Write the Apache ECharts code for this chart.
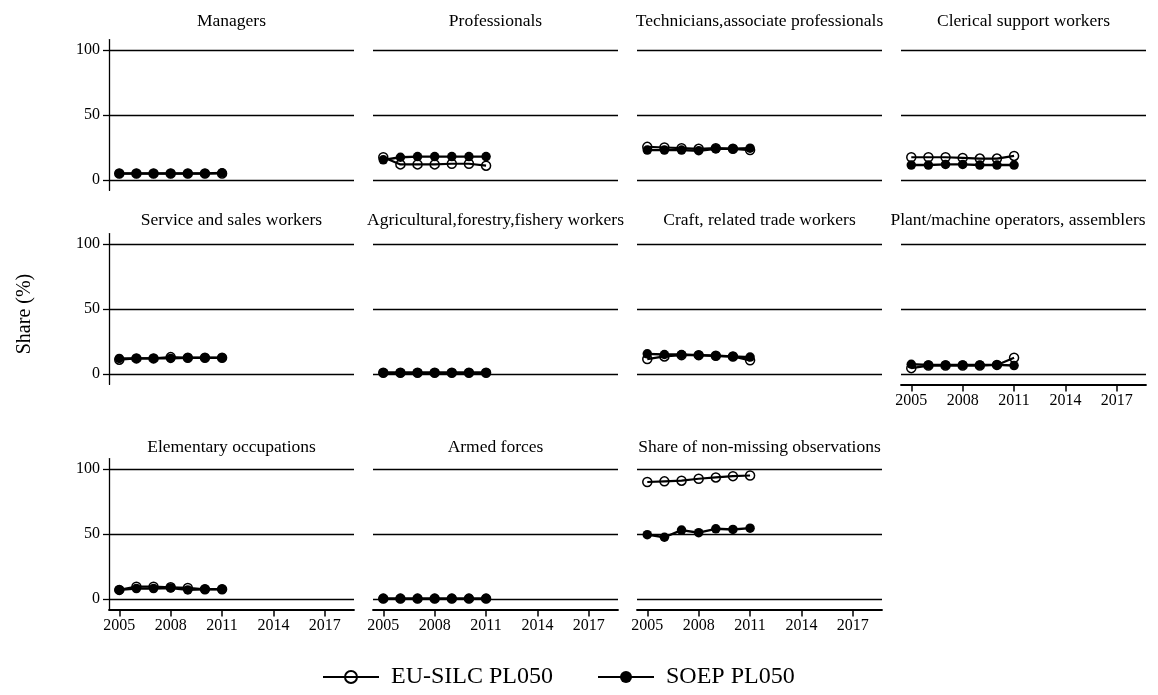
<!DOCTYPE html>
<html>
<head>
<meta charset="utf-8">
<script src="https://cdn.jsdelivr.net/npm/echarts@6/dist/echarts.min.js"></script>
<style>
  html, body { margin: 0; padding: 0; background: #fff; }
  #chart { width: 1158px; height: 695px; }
</style>
</head>
<body>
<div id="chart"></div>
<script>
// 数据
const years = [2005, 2006, 2007, 2008, 2009, 2010, 2011];
const yearTicks = [2005, 2008, 2011, 2014, 2017];
const shareTicks = [0, 50, 100];

const panelTitles = [
  'Managers',
  'Professionals',
  'Technicians,associate professionals',
  'Clerical support workers',
  'Service and sales workers',
  'Agricultural,forestry,fishery workers',
  'Craft, related trade workers',
  'Plant/machine operators, assemblers',
  'Elementary occupations',
  'Armed forces',
  'Share of non-missing observations'
];

// EU-SILC PL050 (hollow)
const euManagers     = [5, 5, 5, 5, 5, 5, 5];
const euProfessional = [17.5, 12, 12, 12, 12.5, 12.5, 11];
const euTechnicians  = [25.5, 25, 24.5, 24, 24.5, 24, 23];
const euClerical     = [17.5, 17.5, 17.5, 17, 16.5, 16.5, 18.5];
const euService      = [11, 12, 12, 13, 12.5, 12.5, 12.5];
const euAgricultural = [1, 1, 1, 1, 1, 1, 1];
const euCraft        = [11.5, 13.5, 14.5, 14.5, 14, 13.5, 10.5];
const euPlant        = [4.5, 6.5, 6.5, 6.5, 6.5, 7, 12.5];
const euElementary   = [7, 9.5, 9.5, 9, 8.5, 7.5, 7.5];
const euArmed        = [0.3, 0.3, 0.3, 0.3, 0.3, 0.3, 0.3];
const euNonMissing   = [90, 90.5, 91, 92.5, 93.5, 94.5, 95];

// SOEP PL050 (filled)
const soepManagers     = [5, 5, 5, 5, 5, 5, 5.5];
const soepProfessional = [15.5, 17.5, 18, 18, 18, 18, 18];
const soepTechnicians  = [23, 23, 23, 22.5, 24, 24, 24.5];
const soepClerical     = [11.5, 11.5, 12, 12, 11.5, 11.5, 11.5];
const soepService      = [12, 12, 12, 12, 12.5, 12.5, 12.5];
const soepAgricultural = [1, 1, 1, 1, 1, 1, 1];
const soepCraft        = [15.5, 15, 15, 14.5, 14, 13.5, 13];
const soepPlant        = [7.5, 7, 7, 7, 7, 7, 6.5];
const soepElementary   = [7, 8, 8, 8.5, 7, 7.5, 7.5];
const soepArmed        = [0.3, 0.3, 0.3, 0.3, 0.3, 0.3, 0.3];
const soepNonMissing   = [49.5, 47.5, 53, 51, 54, 53.5, 54.5];

const euSeries = [euManagers, euProfessional, euTechnicians, euClerical, euService,
  euAgricultural, euCraft, euPlant, euElementary, euArmed, euNonMissing];
const soepSeries = [soepManagers, soepProfessional, soepTechnicians, soepClerical, soepService,
  soepAgricultural, soepCraft, soepPlant, soepElementary, soepArmed, soepNonMissing];

const font = "'Liberation Serif', 'Times New Roman', serif";
const rowTops = [39.6, 233.6, 458.6];
const titleTops = [12, 211, 438];
const gridH = 150.8;
const gridW = 245;
const colStep = 264;

const chart = echarts.init(document.getElementById('chart'));

const grids = [], xAxes = [], yAxes = [], titles = [], series = [];

panelTitles.forEach((name, i) => {
  const row = Math.floor(i / 4);
  const col = i % 4;
  const hasX = i >= 7;
  const left = 109 + col * colStep;
  grids.push({ left: left, top: rowTops[row], width: gridW, height: gridH });

  xAxes.push({
    type: 'value', gridIndex: i, min: 2004.4, max: 2018.7,
    axisLine: { show: hasX, onZero: false, lineStyle: { color: '#000', width: 1.8 } },
    axisTick: { show: hasX, length: 7, customValues: yearTicks, lineStyle: { color: '#000', width: 1.5 } },
    axisLabel: {
      show: hasX, customValues: yearTicks, margin: 8, color: '#000', fontFamily: font, fontSize: 16,
      formatter: v => String(v)
    },
    splitLine: { show: false }
  });

  yAxes.push({
    type: 'value', gridIndex: i, min: -8, max: 108,
    axisLine: { show: col === 0, lineStyle: { color: '#000', width: 1.3 } },
    axisTick: { show: col === 0, length: 6, customValues: shareTicks, lineStyle: { color: '#000', width: 1.3 } },
    axisLabel: { show: col === 0, customValues: shareTicks, margin: 9, color: '#000', fontFamily: font, fontSize: 16 },
    splitLine: { show: true, lineStyle: { color: '#000', width: 1.4 } }
  });

  titles.push({
    text: name, left: i === 7 ? 1018 : left + gridW / 2, top: titleTops[row],
    textAlign: 'center', padding: 0,
    textStyle: { fontFamily: font, fontSize: 17.5, fontWeight: 'normal', color: '#000' }
  });

  series.push({
    name: 'EU-SILC PL050', type: 'line', xAxisIndex: i, yAxisIndex: i,
    data: years.map((y, k) => [y, euSeries[i][k]]),
    symbol: 'circle', symbolSize: 9,
    itemStyle: { color: 'rgba(0,0,0,0)', borderColor: '#000', borderWidth: 1.5 },
    lineStyle: { color: '#000', width: 2.2 },
    emphasis: { disabled: true }
  });
  series.push({
    name: 'SOEP PL050', type: 'line', xAxisIndex: i, yAxisIndex: i,
    data: years.map((y, k) => [y, soepSeries[i][k]]),
    symbol: 'circle', symbolSize: 9.5,
    itemStyle: { color: '#000' },
    lineStyle: { color: '#000', width: 2.4 },
    emphasis: { disabled: true }
  });
});

chart.setOption({
  animation: false,
  backgroundColor: '#fff',
  title: titles,
  grid: grids,
  xAxis: xAxes,
  yAxis: yAxes,
  series: series,
  legend: {
    left: 322, top: 665, padding: 0,
    itemWidth: 56, itemHeight: 15, itemGap: 44,
    textStyle: { fontFamily: font, fontSize: 24, color: '#000', padding: [0, 0, 0, 7] },
    data: ['EU-SILC PL050', 'SOEP PL050']
  },
  graphic: [{
    type: 'text', x: 25, y: 314, rotation: Math.PI / 2,
    style: { text: 'Share (%)', font: '20px ' + font, fill: '#000', align: 'center', verticalAlign: 'middle' }
  }]
});

window.addEventListener('resize', () => chart.resize());
</script>
</body>
</html>
